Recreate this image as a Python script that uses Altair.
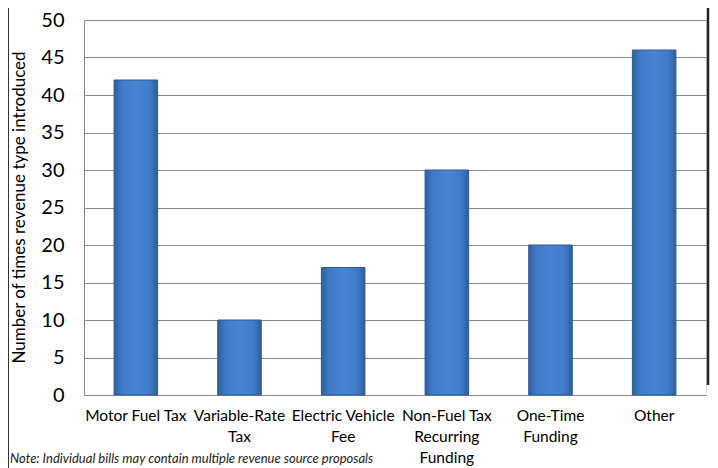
import altair as alt
import pandas as pd

categories = ["Motor Fuel Tax", "Variable-Rate\nTax", "Electric Vehicle\nFee",
              "Non-Fuel Tax\nRecurring\nFunding", "One-Time\nFunding", "Other"]
values = [42, 10, 17, 30, 20, 46]
y_ticks = [0, 5, 10, 15, 20, 25, 30, 35, 40, 45, 50]
note = "Note: Individual bills may contain multiple revenue source proposals"

df = pd.DataFrame({"cat": categories, "val": values})

FONT = "Lato"

bars = alt.Chart(df).mark_bar(
    fill=alt.Gradient(
        gradient="linear",
        stops=[alt.GradientStop(color="#2F5F9E", offset=0),
               alt.GradientStop(color="#3F7BC8", offset=0.18),
               alt.GradientStop(color="#4884D2", offset=0.5),
               alt.GradientStop(color="#3F7BC8", offset=0.82),
               alt.GradientStop(color="#2F5F9E", offset=1)],
        x1=0, x2=1, y1=0, y2=0),
    stroke="#2E5A92", strokeWidth=1
).encode(
    x=alt.X("cat:N", sort=None, title=None,
            scale=alt.Scale(paddingInner=0.58, paddingOuter=0.29),
            axis=alt.Axis(labelExpr="split(datum.label, '\\n')", labelAngle=0,
                          labelFontSize=15.5, labelFont=FONT, labelColor="#000",
                          labelPadding=13, labelLineHeight=21, ticks=False,
                          domainColor="#888", labelBaseline="top", labelLimit=0)),
    y=alt.Y("val:Q", title="Number of times revenue type introduced",
            scale=alt.Scale(domain=[0, 50], nice=False),
            axis=alt.Axis(values=y_ticks, ticks=False, labelFontSize=20, labelFont=FONT,
                          labelColor="#000", labelPadding=20, domainColor="#888",
                          gridColor="#8a8a8a", titleFontSize=17, titleFont=FONT,
                          titleFontWeight="normal", titleColor="#000",
                          titleX=-65, titleY=187, titleAngle=270,
                          titleAlign="center", titleBaseline="middle"))
)

one = alt.Data(values=[{}])
left_line = alt.Chart(one).mark_rule(color="#333", strokeWidth=1).encode(
    x=alt.value(-75.5), y=alt.value(-20), y2=alt.value(448))
right_line = alt.Chart(one).mark_rule(color="#222", strokeWidth=2.5).encode(
    x=alt.value(624), y=alt.value(-20), y2=alt.value(365))
note_text = alt.Chart(one).mark_text(
    text=note, font=FONT, fontSize=13, fontStyle="italic", color="#222",
    align="left", baseline="middle").encode(x=alt.value(-74), y=alt.value(439))

chart = alt.layer(bars, left_line, right_line, note_text).properties(
    width=622, height=375,
    autosize=alt.AutoSizeParams(type="none"),
    padding={"left": 76, "top": 12, "right": 4, "bottom": 73}
).configure_view(stroke=None).configure(background="white")

chart.save("out.html", embed_options={"renderer": "svg", "actions": False})
